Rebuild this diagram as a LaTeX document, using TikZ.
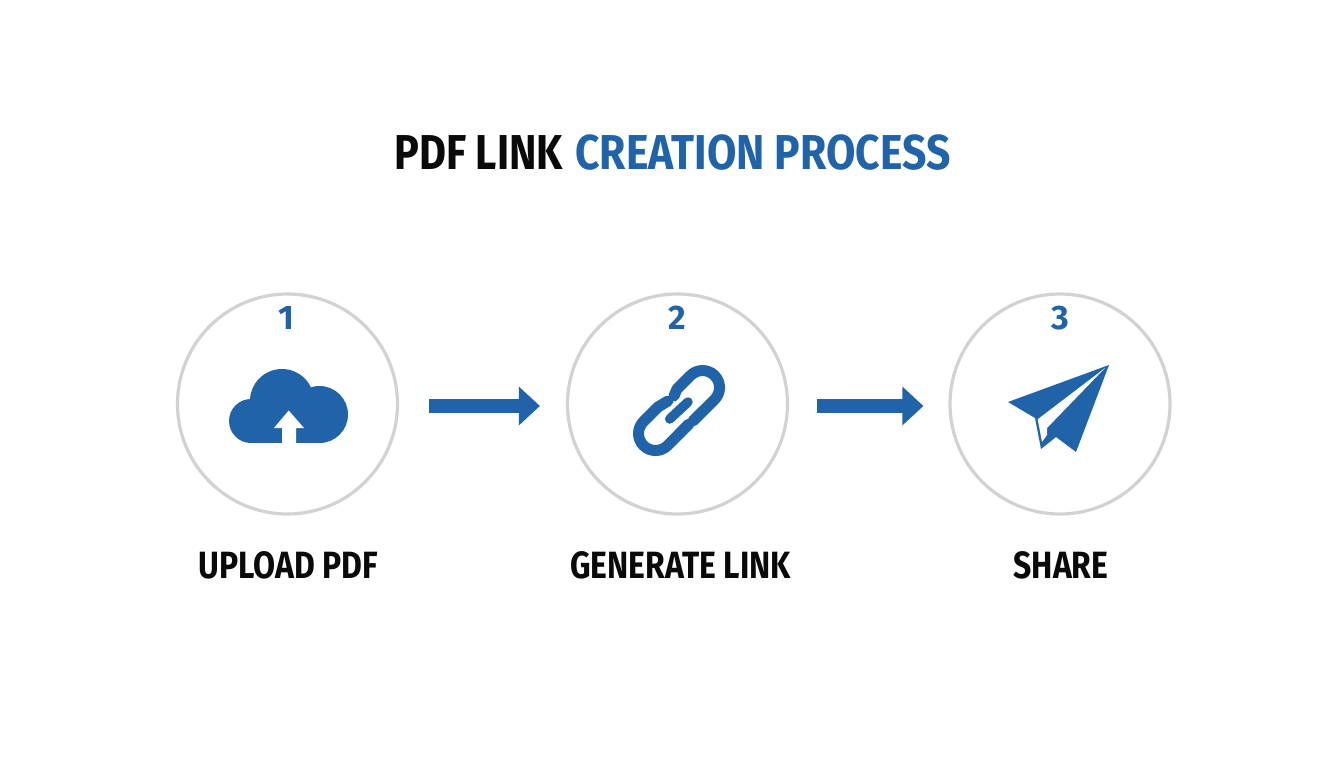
\documentclass[tikz,border=0pt]{standalone}
\usepackage{fontspec}
\setmainfont{Fira Sans}[BoldFont=* Bold]
\newfontfamily\labelfont{Fira Sans Bold}[FakeStretch=0.84]
\newfontfamily\titleblackfont{Fira Sans Bold}[FakeStretch=0.845]
\newfontfamily\titlebluefont{Fira Sans Bold}[FakeStretch=0.87]
\newfontfamily\numfont{Fira Sans Bold}
\usetikzlibrary{arrows.meta}
\definecolor{brandblue}{HTML}{2063A8}
\definecolor{ringgray}{HTML}{D2D2D2}
\definecolor{inkblack}{HTML}{0A0A0A}
\tikzset{
  stepring/.style={circle,draw=ringgray,line width=3.2pt,fill=white,minimum size=220pt,inner sep=0pt},
  flowarrow/.style={draw=brandblue,line width=14.5pt,-{Triangle[length=21pt,width=37.5pt,fill=brandblue]}},
  numlabel/.style={text=brandblue,font=\numfont\fontsize{34}{34}\selectfont,inner sep=0pt},
  steplabel/.style={text=inkblack,font=\labelfont\fontsize{38}{38}\selectfont,inner sep=0pt},
  titlepart/.style={inner sep=0pt,anchor=base west},
  iconfill/.style={fill=brandblue,draw=none},
  linkstroke/.style={draw=brandblue,line width=11pt,line cap=round,line join=round}
}
\begin{document}
\begin{tikzpicture}[x=1pt,y=-1pt]
\useasboundingbox (0,0) rectangle (1344,768);
\fill[white] (0,0) rectangle (1344,768);
% title
\node[titlepart,text=inkblack,font=\titleblackfont\fontsize{49}{49}\selectfont] (t1) at (394,169) {PDF LINK};
\node[titlepart,text=brandblue,font=\titlebluefont\fontsize{49}{49}\selectfont] (t2) at (575,169) {CREATION PROCESS};
% circles
\node[stepring] (c1) at (287.5,404) {};
\node[stepring] (c2) at (677.5,404) {};
\node[stepring] (c3) at (1060,404) {};
% numbers
\node[numlabel] (n1) at (286,318) {1};
\node[numlabel] (n2) at (677,318) {2};
\node[numlabel] (n3) at (1060,318) {3};
% connectors
\draw[flowarrow,shorten <=30pt,shorten >=26pt] ([yshift=-2pt]c1.east) -- ([yshift=-2pt]c2.west);
\draw[flowarrow,shorten <=28pt,shorten >=25pt] ([yshift=-2pt]c2.east) -- ([yshift=-2pt]c3.west);
% cloud
\fill[iconfill] (251,421) circle[radius=22];
\fill[iconfill] (319.5,414.5) circle[radius=28.5];
\fill[iconfill] (282,401) circle[radius=32];
\fill[iconfill] (251,410) rectangle (319.5,443);
\fill[white] (288.7,410.5) -- (304,428) -- (296,428) -- (296,444) -- (282,444) -- (282,428) -- (274,428) -- cycle;
% link
\draw[linkstroke] (674,396) -- (677,389) -- (690.5,375.5) arc[start angle=225,end angle=405,radius=17] -- (701,413) -- (693,421);
\draw[linkstroke] (668,401) -- (658,407) -- (643.5,421.5) arc[start angle=225,end angle=45,radius=17] -- (681,432) -- (689,424);
\draw[brandblue,line width=9.5pt,line cap=round] (669.7,419) -- (688,402);
% plane
\fill[iconfill] (1109,365) -- (1008,402) -- (1035,418) -- (1041,449) -- (1056,437) -- (1076,452) -- cycle;
\fill[white] (1105,368) -- (1037.7,419.3) -- (1042,442) -- (1047,435) -- (1047,428) -- cycle;
% labels
\node[steplabel] (l1) at (288.5,565) {UPLOAD PDF};
\node[steplabel] (l2) at (680.5,565) {GENERATE LINK};
\node[steplabel] (l3) at (1061,565) {SHARE};
\end{tikzpicture}
\end{document}
